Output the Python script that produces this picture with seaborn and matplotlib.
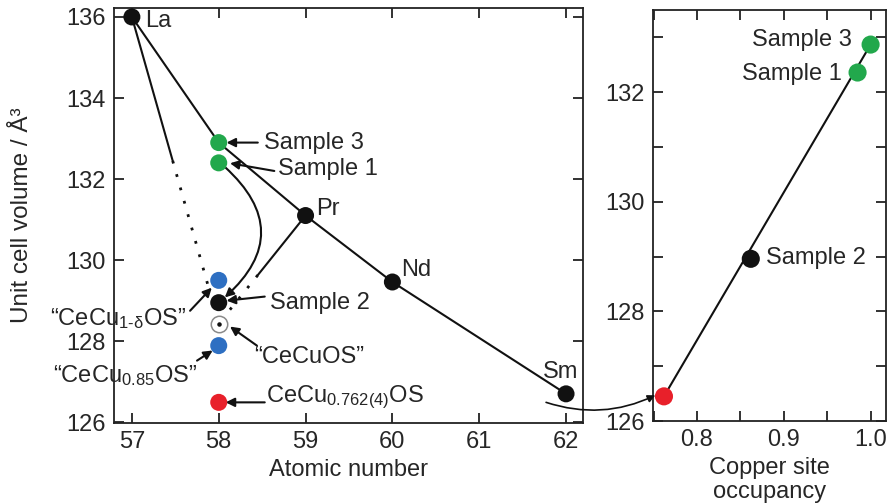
import numpy as np
import matplotlib
matplotlib.use("Agg")
import matplotlib.pyplot as plt
from matplotlib.ticker import MultipleLocator
import seaborn as sns

# lanthanide trend (atomic number vs unit cell volume)
trend_z = [57, 58, 59, 60, 62]
trend_v = [136.0, 132.9, 131.1, 129.46, 126.7]
ln_z = [57, 59, 60, 62]
ln_v = [136.0, 131.1, 129.46, 126.7]
ln_names = ["La", "Pr", "Nd", "Sm"]

# cerium compounds, all at Z = 58
ce_names = ["Sample 3", "Sample 1", "Sample 2", "CeCu1-dOS", "CeCu0.85OS", "CeCu0.762(4)OS"]
ce_v = [132.9, 132.4, 128.95, 129.5, 127.89, 126.49]
ce_colors = ["#22a84c", "#22a84c", "#111111", "#2e6fc2", "#2e6fc2", "#e8202a"]
cecuos_v = 128.43

# guide lines towards "CeCuOS" (solid part, dotted part)
la_solid = ([57, 57.47], [136.0, 132.45])
la_dot = ([57.47, 57.88], [132.45, 129.35])
pr_solid = ([59, 58.45], [131.1, 129.63])
pr_dot = ([58.45, 58.1], [129.63, 128.7])

# copper site occupancy panel
occ = [0.762, 0.862, 0.985, 1.0]
occ_v = [126.45, 128.96, 132.36, 132.87]
occ_colors = ["#e8202a", "#111111", "#22a84c", "#22a84c"]

sns.set_theme(style="ticks")
plt.rcParams["font.family"] = ["Liberation Sans", "DejaVu Sans"]
plt.rcParams["mathtext.fontset"] = "custom"
plt.rcParams["mathtext.rm"] = "Liberation Sans"
plt.rcParams["mathtext.it"] = "Liberation Sans"
plt.rcParams["axes.linewidth"] = 1.3
plt.rcParams["axes.edgecolor"] = "#222222"

fs = 17
fig = plt.figure(figsize=(8.88, 5.03), dpi=100)
ax1 = fig.add_axes([0.128, 0.159, 0.529, 0.825])
ax2 = fig.add_axes([0.735, 0.163, 0.263, 0.817])

lw = 1.5
lc = "#111111"
sns.lineplot(x=trend_z, y=trend_v, ax=ax1, color=lc, lw=lw, sort=False, estimator=None)
for seg, ls in [(la_solid, "-"), (la_dot, (0, (1, 4))), (pr_solid, "-"), (pr_dot, (0, (1, 4)))]:
    ax1.plot(seg[0], seg[1], color=lc, lw=lw if ls == "-" else 2, linestyle=ls)

sns.scatterplot(x=ln_z, y=ln_v, ax=ax1, color=lc, s=150, edgecolor="none", zorder=5)
sns.scatterplot(x=[58] * len(ce_v), y=ce_v, ax=ax1, hue=ce_names, palette=ce_colors,
                s=150, edgecolor="none", legend=False, zorder=5)
ax1.scatter([58], [cecuos_v], s=140, facecolor="white", edgecolor="#8a8a8a", lw=1.1, zorder=5)
ax1.scatter([58], [cecuos_v], s=5, color="#111111", zorder=6)

# element labels
ax1.text(57.15, 135.9, "La", fontsize=fs, va="center", ha="left")
ax1.text(59.12, 131.25, "Pr", fontsize=fs, va="center", ha="left")
ax1.text(60.1, 129.75, "Nd", fontsize=fs, va="center", ha="left")
ax1.text(61.94, 127.25, "Sm", fontsize=fs, va="center", ha="center")

arrow = dict(arrowstyle="-|>", color=lc, lw=lw, mutation_scale=13, shrinkA=0, shrinkB=0)
notes = [
    ("Sample 3", (58.52, 132.9), (58.45, 132.9), (58.09, 132.9), "left"),
    ("Sample 1", (58.68, 132.25), (58.64, 132.2), (58.13, 132.39), "left"),
    ("Sample 2", (58.59, 128.95), (58.53, 129.1), (58.09, 129.0), "left"),
    ("\u201cCeCu$_{1\\text{-}\\delta}$OS\u201d", (57.63, 128.56), (57.67, 128.75), (57.92, 129.32), "right"),
    ("\u201cCeCuOS\u201d", (58.41, 127.62), (58.44, 127.89), (58.13, 128.36), "left"),
    ("\u201cCeCu$_{0.85}$OS\u201d", (57.76, 127.15), (57.75, 127.52), (57.93, 127.77), "right"),
    ("CeCu$_{0.762(4)}$OS", (58.55, 126.62), (58.53, 126.49), (58.08, 126.49), "left"),
]
for label, tpos, tail, tip, ha in notes:
    ax1.annotate("", xy=tip, xytext=tail, arrowprops=arrow)
    ax1.text(tpos[0], tpos[1], label, fontsize=fs, ha=ha, va="center")

# curved arrow Sample 1 -> Sample 2
ax1.annotate("", xy=(58.07, 129.08), xytext=(58.07, 132.3),
             arrowprops=dict(arrowstyle="-|>", color=lc, lw=lw, mutation_scale=13,
                             shrinkA=0, shrinkB=0, connectionstyle="arc3,rad=-0.55"))

ax1.set_xlim(56.79, 62.2)
ax1.set_ylim(125.98, 136.22)
ax1.set_xticks([57, 58, 59, 60, 61, 62])
ax1.set_yticks([126, 128, 130, 132, 134, 136])
ax1.set_xlabel("Atomic number", fontsize=fs, labelpad=4)
ax1.set_ylabel("Unit cell volume / \u00c5\u00b3", fontsize=fs + 0.5)
ax1.yaxis.set_label_coords(-0.172, 0.5)

# right panel
sns.lineplot(x=[occ[0], occ[-1]], y=[occ_v[0], occ_v[-1]], ax=ax2, color=lc, lw=lw,
             sort=False, estimator=None, zorder=4)
sns.scatterplot(x=occ, y=occ_v, ax=ax2, hue=["red", "s2", "s1", "s3"], palette=occ_colors,
                s=[170] * 4, edgecolor="none", legend=False, zorder=5)
ax2.text(0.978, 132.96, "Sample 3", fontsize=fs, ha="right", va="center")
ax2.text(0.967, 132.33, "Sample 1", fontsize=fs, ha="right", va="center")
ax2.text(0.880, 128.98, "Sample 2", fontsize=fs, ha="left", va="center")

ax2.set_xlim(0.749, 1.018)
ax2.set_ylim(126.0, 133.5)
ax2.set_xticks([0.8, 0.9, 1.0])
ax2.set_xticklabels(["0.8", "0.9", "1.0"])
ax2.xaxis.set_minor_locator(MultipleLocator(0.05))
ax2.set_yticks([126, 128, 130, 132])
ax2.yaxis.set_minor_locator(MultipleLocator(1))
ax2.set_xlabel("Copper site\noccupancy", fontsize=fs, labelpad=4, linespacing=1.15)
ax2.set_ylabel("")

for ax in (ax1, ax2):
    ax.tick_params(which="both", direction="in", top=True, right=True, length=7,
                   width=1.3, color="#222222", labelsize=fs, pad=6)
    for s in ax.spines.values():
        s.set_visible(True)

# arrow from the Sm region to the red point in the right panel
ax2.annotate("", xy=(0.752, 126.47), xycoords=ax2.transData,
             xytext=(61.77, 126.49), textcoords=ax1.transData,
             arrowprops=dict(arrowstyle="-|>", color=lc, lw=1.2, mutation_scale=11,
                             shrinkA=0, shrinkB=0, connectionstyle="arc3,rad=0.2"),
             annotation_clip=False)

fig.savefig("out.png", dpi=100)
